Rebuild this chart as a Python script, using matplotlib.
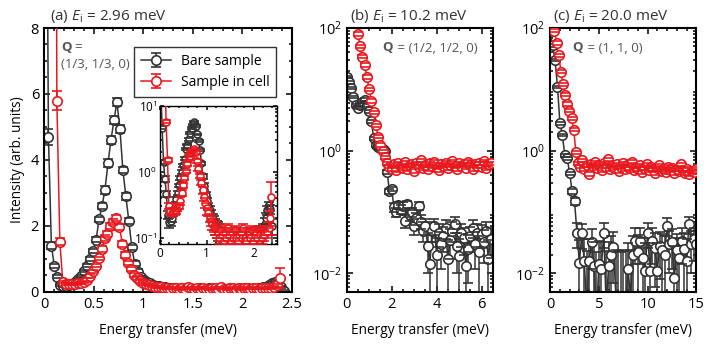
import matplotlib
matplotlib.use("Agg")
import matplotlib.pyplot as plt
from matplotlib.ticker import MultipleLocator, LogLocator, NullFormatter
import numpy as np

plt.rcParams["font.family"] = ["Open Sans", "DejaVu Sans"]
plt.rcParams["mathtext.fontset"] = "custom"
plt.rcParams["mathtext.rm"] = "Open Sans"
plt.rcParams["mathtext.it"] = "Open Sans:italic"
plt.rcParams["mathtext.bf"] = "Open Sans:bold"

BLACK = "#333333"
RED = "#e8191e"
GRAY = "#555555"

# ---------------- data ----------------
# (a) Ei = 2.96 meV
ea_bare = np.arange(81) * 0.03 + 0.015
ia_bare = [20, 4.7, 1.4, 0.78, 0.46, 0.22, 0.17, 0.18, 0.2, 0.24,
           0.3, 0.38, 0.48, 0.62, 0.8, 1.0, 1.25, 1.58, 2.2, 2.6,
           3.1, 3.9, 4.6, 5.2, 5.75, 4.95, 3.7, 2.9, 2.15, 1.35,
           0.85, 0.6, 0.45, 0.36, 0.3, 0.26, 0.22, 0.19, 0.17, 0.15,
           0.14, 0.13, 0.12,
           0.11, 0.12, 0.1, 0.11, 0.09, 0.12, 0.1, 0.1, 0.08, 0.11,
           0.09, 0.1, 0.12, 0.08, 0.1, 0.09, 0.11, 0.1, 0.08, 0.12,
           0.09, 0.1, 0.11, 0.09, 0.1, 0.12, 0.1, 0.09, 0.13, 0.11,
           0.14,
           0.16, 0.2, 0.26, 0.31, 0.27, 0.15, 0.02]
da_bare = ([1.0, 0.25, 0.1, 0.07, 0.05] + [0.03] * 9 + [0.06] * 3
           + [0.08] * 3 + [0.12] * 6 + [0.1] * 3 + [0.08] * 3
           + [0.04] * 11 + [0.02] * 31 + [0.04] * 6 + [0.05])

ea_cell = np.arange(77) * 0.03 + 0.10
ia_cell = [40, 5.8, 1.52, 0.3, 0.25, 0.24, 0.24, 0.25, 0.26, 0.28,
           0.3, 0.36, 0.48, 0.62, 0.8, 1.02, 1.3, 1.62, 1.75, 2.0,
           2.12, 2.25, 1.98, 1.45, 1.12, 0.87, 0.68, 0.52, 0.42, 0.34,
           0.28, 0.24, 0.2, 0.18, 0.16, 0.15, 0.14, 0.13,
           0.12, 0.1, 0.13, 0.11, 0.09, 0.12, 0.1, 0.14, 0.11, 0.09,
           0.12, 0.1, 0.13, 0.1, 0.09, 0.11, 0.12, 0.1, 0.14, 0.1,
           0.09, 0.12, 0.11, 0.1, 0.13, 0.09, 0.11, 0.12, 0.1, 0.13,
           0.11, 0.1, 0.12, 0.11, 0.13, 0.12,
           0.14, 0.2, 0.41]
da_cell = ([2.0, 0.3, 0.1] + [0.03] * 8 + [0.05] * 5 + [0.09] * 9
           + [0.06] * 6 + [0.03] * 7 + [0.02] * 36 + [0.03, 0.05, 0.3])

# (b) Ei = 10.2 meV
eb_bare = np.arange(65) * 0.1
ib_bare = [16, 13, 10.5, 7.5, 5.5, 5.0, 5.6, 6.2, 6.8, 5.5,
           4.4, 3.0, 1.6, 1.25, 1.15, 1.1, 1.08, 1.0, 0.45, 0.22,
           0.24, 0.12, 0.1, 0.13, 0.11, 0.126, 0.072, 0.135, 0.09, 0.1,
           0.06, 0.08, 0.126, 0.07, 0.05, 0.06, 0.028, 0.014, 0.05, 0.06,
           0.02, 0.045, 0.03, 0.04, 0.055, 0.017, 0.035, 0.05, 0.064, 0.028,
           0.019, 0.045, 0.038, 0.013, 0.025, 0.04, 0.056, 0.03, 0.045, 0.022,
           0.044, 0.033, 0.05, 0.017, 0.036]
db_bare = ([0.8, 0.7, 0.5, 0.4, 0.3, 0.3, 0.3, 0.3, 0.35, 0.3,
            0.25, 0.18, 0.1, 0.08, 0.07, 0.07, 0.07, 0.06, 0.03, 0.02, 0.02]
           + [0.018] * 44)

eb_cell = np.arange(5, 65) * 0.1
ib_cell = [80, 50, 34, 25, 16, 10, 6.5, 4.2, 2.6, 1.7,
           1.25, 0.98, 0.78, 0.62,
           0.55, 0.5, 0.6, 0.48, 0.62, 0.55, 0.52, 0.65, 0.5, 0.58,
           0.6, 0.47, 0.63, 0.55, 0.7, 0.52, 0.58, 0.5, 0.62, 0.56,
           0.66, 0.53, 0.49, 0.6, 0.57, 0.64, 0.52, 0.58, 0.68, 0.55,
           0.5, 0.62, 0.57, 0.6, 0.53, 0.66, 0.58, 0.5, 0.61, 0.56,
           0.63, 0.55, 0.68, 0.52, 0.6, 0.62]
db_cell = ([5, 3, 2, 1.5, 1, 0.6, 0.4, 0.25, 0.15, 0.1, 0.08, 0.06, 0.05, 0.04]
           + [0.035] * 46)

# (c) Ei = 20.0 meV
ec_bare = np.arange(61) * 0.25
ic_bare = [85, 52, 30, 11, 2.8, 1.8, 0.85, 0.75, 0.43, 0.22,
           0.15, 0.046, 0.015, 0.045, 0.016, 0.003, 0.016, 0.032, 0.013, 0.002,
           0.014, 0.012, 0.046, 0.003, 0.013, 0.02, 0.027, 0.004, 0.003, 0.002,
           0.004, 0.003, 0.0117, 0.004, 0.02, 0.034, 0.022, 0.034, 0.018, 0.011,
           0.046, 0.011, 0.034, 0.026, 0.011, 0.028, 0.024, 0.02, 0.06, 0.03,
           0.032, 0.0085, 0.024, 0.018, 0.034, 0.025, 0.016, 0.064, 0.03, 0.036,
           0.03]
dc_bare = ([4, 2.6, 1.5, 0.55, 0.14, 0.09, 0.05, 0.04, 0.025, 0.02, 0.02]
           + [0.02] * 50)

ec_cell = np.arange(67) * 0.22 + 0.44
ic_cell = [91, 57, 36, 19.5, 12, 8.2, 5.8, 4.5, 3.4, 2.2, 0.94,
           0.62, 0.55, 0.7, 0.5, 0.58, 0.42, 0.6, 0.56, 0.65, 0.52,
           0.59, 0.48, 0.62, 0.55, 0.72, 0.5, 0.57, 0.53, 0.6, 0.47,
           0.55, 0.62, 0.5, 0.58, 0.52, 0.66, 0.48, 0.55, 0.5, 0.58,
           0.45, 0.52, 0.6, 0.48, 0.55, 0.5, 0.44, 0.53, 0.58, 0.47,
           0.5, 0.45, 0.55, 0.48, 0.52, 0.43, 0.5, 0.46, 0.6, 0.48,
           0.44, 0.5, 0.42, 0.47, 0.45, 0.5]
dc_cell = [5, 3.4, 2, 1.1, 0.7, 0.5, 0.35, 0.27, 0.2, 0.13, 0.06] + [0.035] * 56

FS = 10.5   # tick labels
LS = 9.8    # axis labels


def draw(ax, x, y, err, color, z, label=None, ms=6.8):
    c = ax.errorbar(x, y, yerr=err, fmt="-o", color=color, ecolor=color,
                    mfc="white", mec=color, ms=ms, mew=1.2, lw=1.1,
                    elinewidth=1.1, capsize=3.5, capthick=1.1,
                    zorder=z, label=label)
    for cap in c[1]:
        cap.set_zorder(z + 0.5)
    return c


def style(ax, size=FS):
    ax.tick_params(which="both", direction="in", top=True, right=True,
                   labelsize=size, width=1.1, colors="black")
    ax.tick_params(which="major", length=4)
    ax.tick_params(which="minor", length=2)
    for s in ax.spines.values():
        s.set_linewidth(1.5)


fig = plt.figure(figsize=(7.09, 3.5), dpi=100)
ax_a = fig.add_axes([0.062, 0.166, 0.350, 0.754])
ax_b = fig.add_axes([0.489, 0.166, 0.206, 0.754])
ax_c = fig.add_axes([0.776, 0.166, 0.206, 0.754])

# panel a
draw(ax_a, ea_bare, ia_bare, da_bare, BLACK, 2, "Bare sample")
draw(ax_a, ea_cell, ia_cell, da_cell, RED, 3, "Sample in cell")
ax_a.set_xlim(0, 2.5)
ax_a.set_ylim(0, 8)
ax_a.xaxis.set_minor_locator(MultipleLocator(0.1))
ax_a.yaxis.set_major_locator(MultipleLocator(2))
ax_a.yaxis.set_minor_locator(MultipleLocator(0.5))
ax_a.set_xticks([0, 0.5, 1, 1.5, 2, 2.5])
ax_a.set_xticklabels(["0", "0.5", "1", "1.5", "2", "2.5"])
style(ax_a)
ax_a.set_ylabel("Intensity (arb. units)", fontsize=LS, labelpad=4)
ax_a.legend(loc="upper right", bbox_to_anchor=(0.965, 0.955), fontsize=10,
            frameon=True, fancybox=False, edgecolor="black",
            handlelength=2.2, borderpad=0.5, labelspacing=0.45,
            handletextpad=0.7)
ax_a.get_legend().get_frame().set_linewidth(1.0)
ax_a.text(0.025, 1.012, r"(a) $E_\mathrm{i}$ = 2.96 meV", transform=ax_a.transAxes,
          fontsize=11, color="#333333", va="bottom")
ax_a.text(0.07, 0.955, r"$\mathbf{Q}$ =", transform=ax_a.transAxes,
          fontsize=9.5, va="top", color=GRAY)
ax_a.text(0.07, 0.885, "(1/3, 1/3, 0)", transform=ax_a.transAxes,
          fontsize=9.5, va="top", color=GRAY)

# inset
ax_in = fig.add_axes([0.2257, 0.303, 0.165, 0.394])
draw(ax_in, ea_bare, ia_bare, da_bare, BLACK, 2, ms=5)
draw(ax_in, ea_cell, ia_cell, da_cell, RED, 3, ms=5)
ax_in.set_yscale("log")
ax_in.set_xlim(0, 2.5)
ax_in.set_ylim(0.08, 10)
ax_in.xaxis.set_major_locator(MultipleLocator(1))
ax_in.xaxis.set_minor_locator(MultipleLocator(0.2))
ax_in.yaxis.set_major_locator(LogLocator(base=10))
ax_in.yaxis.set_minor_locator(LogLocator(base=10, subs=np.arange(2, 10)))
ax_in.yaxis.set_minor_formatter(NullFormatter())
style(ax_in, size=8.5)
ax_in.tick_params(pad=2)
ax_in.tick_params(which="major", length=3)
ax_in.tick_params(which="minor", length=1.5)
for s in ax_in.spines.values():
    s.set_linewidth(1.0)

# panels b, c
for ax, (eb, ib, db), (ec, ic, dc), xmax, title, q in [
    (ax_b, (eb_bare, ib_bare, db_bare), (eb_cell, ib_cell, db_cell), 6.5,
     r"(b) $E_\mathrm{i}$ = 10.2 meV", "(1/2, 1/2, 0)"),
    (ax_c, (ec_bare, ic_bare, dc_bare), (ec_cell, ic_cell, dc_cell), 15,
     r"(c) $E_\mathrm{i}$ = 20.0 meV", "(1, 1, 0)"),
]:
    draw(ax, eb, ib, db, BLACK, 2)
    draw(ax, ec, ic, dc, RED, 3)
    ax.set_yscale("log")
    ax.set_xlim(0, xmax)
    ax.set_ylim(0.005, 100)
    ax.yaxis.set_minor_locator(LogLocator(base=10, subs=np.arange(2, 10), numticks=10))
    ax.yaxis.set_minor_formatter(NullFormatter())
    ax.set_yticks([0.01, 1, 100])
    ax.set_yticklabels([r"$10^{-2}$", r"$10^{0}$", r"$10^{2}$"])
    style(ax)
    ax.text(0.02, 1.012, title, transform=ax.transAxes, fontsize=11,
            color="#333333", va="bottom")
    t = ax.text(0.24 if ax is ax_b else 0.15, 0.955, r"$\mathbf{Q}$",
                transform=ax.transAxes, fontsize=9.5, va="top", color=GRAY)
    ax.annotate(" = " + q, xy=(1, 0), xycoords=t, va="bottom",
                fontsize=9.5, color=GRAY)

ax_b.xaxis.set_major_locator(MultipleLocator(2))
ax_b.xaxis.set_minor_locator(MultipleLocator(0.5))
ax_c.xaxis.set_major_locator(MultipleLocator(5))
ax_c.xaxis.set_minor_locator(MultipleLocator(1))

for ax in (ax_a, ax_b, ax_c):
    ax.set_xlabel("Energy transfer (meV)", fontsize=LS, labelpad=8)

fig.savefig("out.png", dpi=100)
